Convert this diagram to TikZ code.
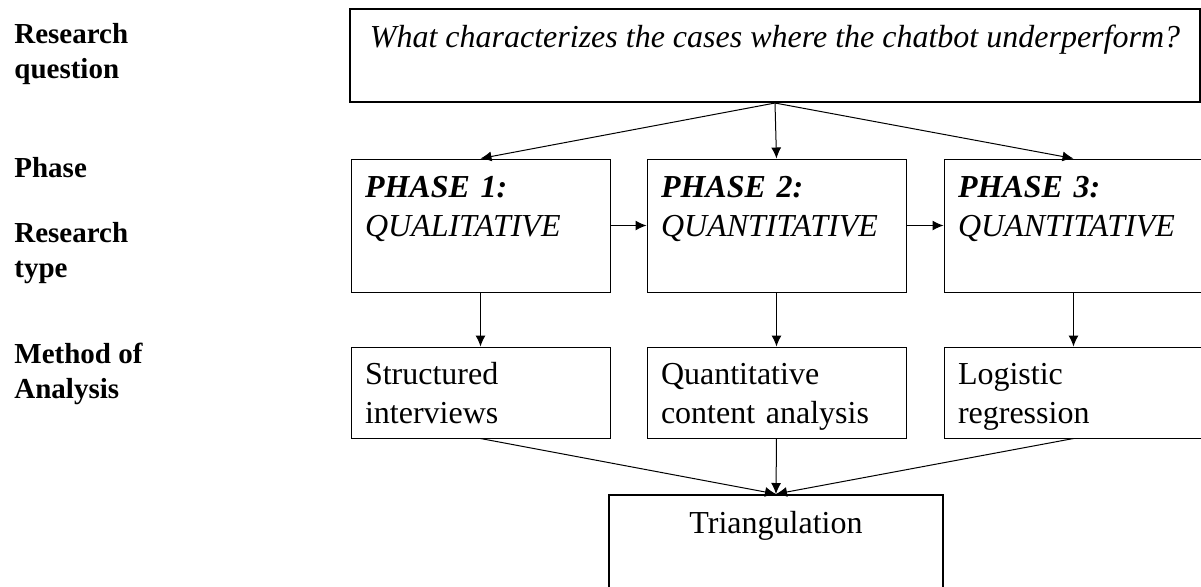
\documentclass[tikz,border=0pt]{standalone}
\usepackage{fontspec}
\setmainfont{Liberation Serif}
\usetikzlibrary{positioning,arrows.meta}
\newcommand{\lnstrut}{\rule[-4.25pt]{0pt}{19.5pt}}

\begin{document}
\begin{tikzpicture}[x=0.5pt,y=-0.5pt,
  box/.style={draw,line width=0.5pt,inner xsep=7pt,inner ysep=0pt,align=left,text width=115.5pt,minimum width=129.5pt,font=\fontsize{16}{19.5}\selectfont},
  phasebox/.style={box,minimum height=66.5pt,font=\fontsize{16}{19.5}\selectfont\itshape},
  methodbox/.style={box,minimum height=45.5pt},
  rowlabel/.style={anchor=north west,inner sep=0pt,align=left,font=\fontsize{14.5}{17.5}\selectfont\bfseries},
  link/.style={-{Latex[length=5.5pt,width=5pt]},line width=0.5pt}]
\clip (0,0) rectangle (1201,586);
\node[rowlabel] (lq) at (14,23.4) {Research\\question};
\node[rowlabel] (lphase) at (14,157.4) {Phase};
\node[rowlabel] (ltype) at (14,222.4) {Research\\type};
\node[rowlabel] (lmethod) at (14,342.4) {Method of\\Analysis};
\node[draw,line width=1pt,inner sep=0pt,align=left,minimum width=425pt,minimum height=46.5pt,font=\fontsize{16}{19.5}\selectfont\itshape] (rq) at (775,55.5) {\lnstrut What characterizes the cases where the chatbot underperform?\\ \lnstrut};
\node[phasebox] (p1) at (480.5,225.5) {\lnstrut\textbf{PHASE 1:}\\ \lnstrut QUALITATIVE\\ \lnstrut};
\node[phasebox] (p2) at (776.5,225.5) {\lnstrut\textbf{PHASE 2:}\\ \lnstrut QUANTITATIVE\\ \lnstrut};
\node[phasebox] (p3) at (1073.5,225.5) {\lnstrut\textbf{PHASE 3:}\\ \lnstrut QUANTITATIVE\\ \lnstrut};
\node[methodbox] (m1) at (480.5,392.5) {\lnstrut Structured\\ \lnstrut interviews};
\node[methodbox] (m2) at (776.5,392.5) {\lnstrut Quantitative\\ \lnstrut content analysis};
\node[methodbox] (m3) at (1073.5,392.5) {\lnstrut Logistic\\ \lnstrut regression};
\node[box,line width=1pt,align=center,text width=153pt,minimum width=167pt,minimum height=66.5pt] (tri) at (776,561.5) {\lnstrut Triangulation\\ \lnstrut\\ \lnstrut};
\draw[link] (rq.south) -- (p1.north);
\draw[link] (rq.south) -- (p2.north);
\draw[link] (rq.south) -- (p3.north);
\draw[link] (p1) -- (p2);
\draw[link] (p2) -- (p3);
\draw[link] (p1) -- (m1);
\draw[link] (p2) -- (m2);
\draw[link] (p3) -- (m3);
\draw[link] (m1.south) -- (tri.north);
\draw[link] (m2.south) -- (tri.north);
\draw[link] (m3.south) -- (tri.north);
\end{tikzpicture}
\end{document}
